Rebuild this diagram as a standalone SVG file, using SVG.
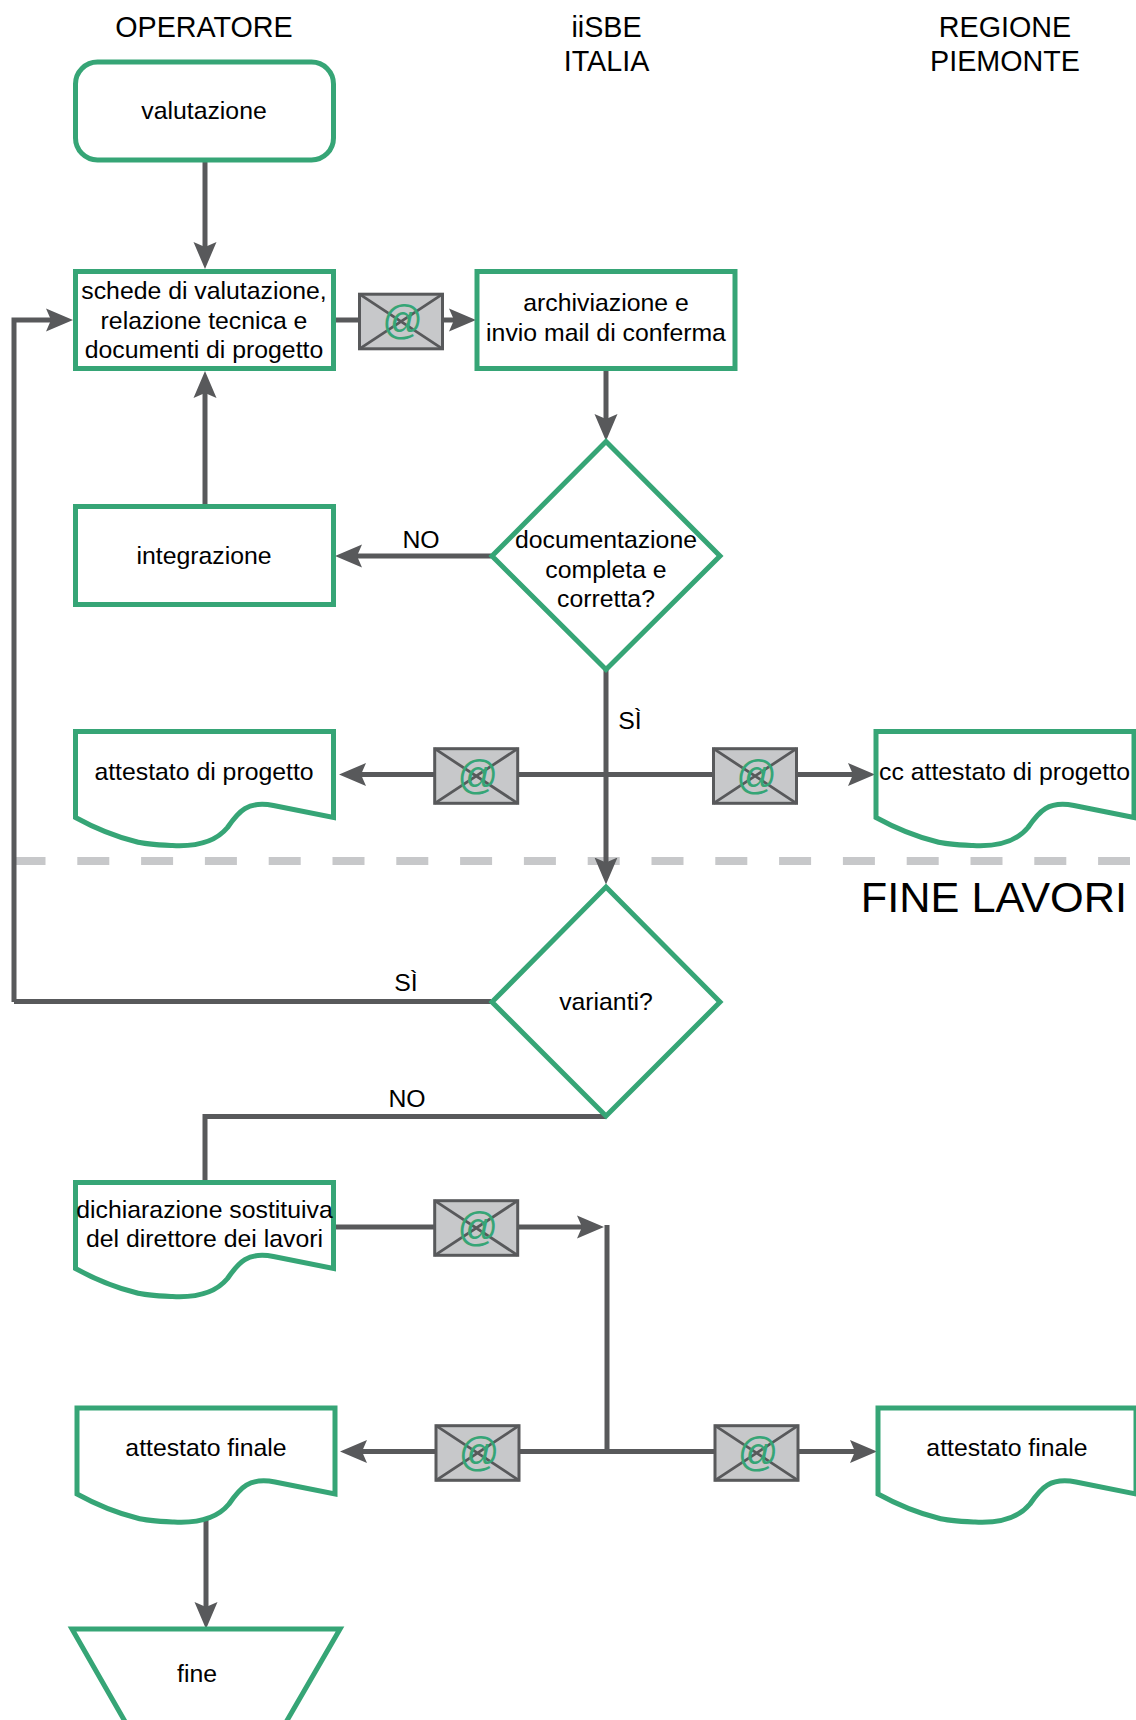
<svg xmlns="http://www.w3.org/2000/svg" width="1136" height="1720" viewBox="0 0 1136 1720">
<style>
text{font-family:"Liberation Sans",Arial,sans-serif;font-size:24.8px;fill:#000;text-anchor:middle}
.h{font-size:28.7px}
.big{font-size:43.3px;text-anchor:end}
.n{fill:#fff;stroke:#36a576;stroke-width:5}
.c{fill:none;stroke:#58595b;stroke-width:5}
.a{marker-end:url(#arrow)}
.e{fill:#c7c8ca;stroke:#58595b;stroke-width:3}
.x{fill:none;stroke:#58595b;stroke-width:2.800}
.at{font-size:40px;fill:#36a576}
</style>
<defs>
<marker id="arrow" markerUnits="userSpaceOnUse" markerWidth="30" markerHeight="28" refX="20" refY="14" orient="auto"><path d="M0,2.500L27,14L0,25.500L5,14Z" fill="#58595b"/></marker>
<path id="doc" d="M0,0H258V86L198,74C172,69 163,80 152,96C138,113 115,115 97,114C85,113.500 70,113 60,110C40,105 20,97 0,86Z"/>
<g id="env"><rect class="e" x="-41.500" y="-27.300" width="83" height="54.600"/><path class="x" d="M-41.500,-27.300L41.500,27.300M41.500,-27.300L-41.500,27.300"/><text class="at" x="1.500" y="12.500">@</text></g>
</defs>
<rect width="1136" height="1720" fill="#fff"/>
<line x1="13.500" y1="861" x2="1130" y2="861" stroke="#c7c8ca" stroke-width="8" stroke-dasharray="32 31.800"/>
<g id="connectors">
<path class="c a" d="M205,160V262"/>
<path class="c a" d="M336,320H469"/>
<path class="c a" d="M14,1002V320H66"/>
<path class="c a" d="M205,505V378"/>
<path class="c a" d="M606,370V434"/>
<path class="c a" d="M491,556H342"/>
<path class="c a" d="M606,669V877.500"/>
<path class="c a" d="M606,774.500H346"/>
<path class="c a" d="M606,774.500H868"/>
<path class="c" d="M491,1001.500H14"/>
<path class="c" d="M606,1116.500H205V1182"/>
<path class="c a" d="M336,1227H597"/>
<path class="c" d="M607,1225V1454"/>
<path class="c a" d="M607,1451.500H347"/>
<path class="c a" d="M607,1451.500H870"/>
<path class="c a" d="M206,1515V1622"/>
</g>
<g id="head1"><text class="h" x="204" y="36.500">OPERATORE</text></g>
<g id="head2"><text class="h" x="606.500" y="36.500">iiSBE</text><text class="h" x="606.500" y="71">ITALIA</text></g>
<g id="head3"><text class="h" x="1005" y="36.500">REGIONE</text><text class="h" x="1005" y="71">PIEMONTE</text></g>
<g id="valutazione"><rect class="n" x="75.500" y="62" width="258" height="98" rx="22"/><text x="204" y="119">valutazione</text></g>
<g id="schede"><rect class="n" x="75.500" y="271.500" width="258" height="97"/><text x="204" y="299">schede di valutazione,</text><text x="204" y="329">relazione tecnica e</text><text x="204" y="358">documenti di progetto</text></g>
<g id="archiviazione"><rect class="n" x="477" y="271.500" width="258" height="97"/><text x="606" y="311">archiviazione e</text><text x="606" y="341">invio mail di conferma</text></g>
<g id="diamond1"><path class="n" d="M606,441.500L720,556L606,669.500L492,556Z"/><text x="606" y="548">documentazione</text><text x="606" y="578">completa e</text><text x="606" y="607">corretta?</text></g>
<g id="integrazione"><rect class="n" x="75.500" y="506.500" width="258" height="98"/><text x="204" y="563.500">integrazione</text></g>
<g id="doc1"><use href="#doc" class="n" x="75.500" y="731.500"/><text x="204" y="779.500">attestato di progetto</text></g>
<g id="doc2"><use href="#doc" class="n" x="876" y="731.500"/><text x="1004.500" y="779.500">cc attestato di progetto</text></g>
<g id="diamond2"><path class="n" d="M606,887L720,1002L606,1116L492,1002Z"/><text x="606" y="1010">varianti?</text></g>
<g id="doc3"><use href="#doc" class="n" x="75.500" y="1182.500"/><text x="204.500" y="1217.500">dichiarazione sostituiva</text><text x="204.500" y="1247">del direttore dei lavori</text></g>
<g id="doc4"><use href="#doc" class="n" x="77" y="1408"/><text x="206" y="1455.500">attestato finale</text></g>
<g id="doc5"><use href="#doc" class="n" x="878" y="1408"/><text x="1007" y="1455.500">attestato finale</text></g>
<g id="fine"><path class="n" d="M72,1629H340L241,1800H170Z"/><text x="197" y="1681.500">fine</text></g>
<use href="#env" x="401" y="321.500"/>
<use href="#env" x="476.200" y="776"/>
<use href="#env" x="755" y="776"/>
<use href="#env" x="476.200" y="1228"/>
<use href="#env" x="477.500" y="1453"/>
<use href="#env" x="756.500" y="1453"/>
<text x="421" y="548">NO</text>
<text x="630" y="729">SÌ</text>
<text x="406" y="990.500">SÌ</text>
<text x="407" y="1107">NO</text>
<text class="big" x="1127" y="911.500">FINE LAVORI</text>
</svg>
